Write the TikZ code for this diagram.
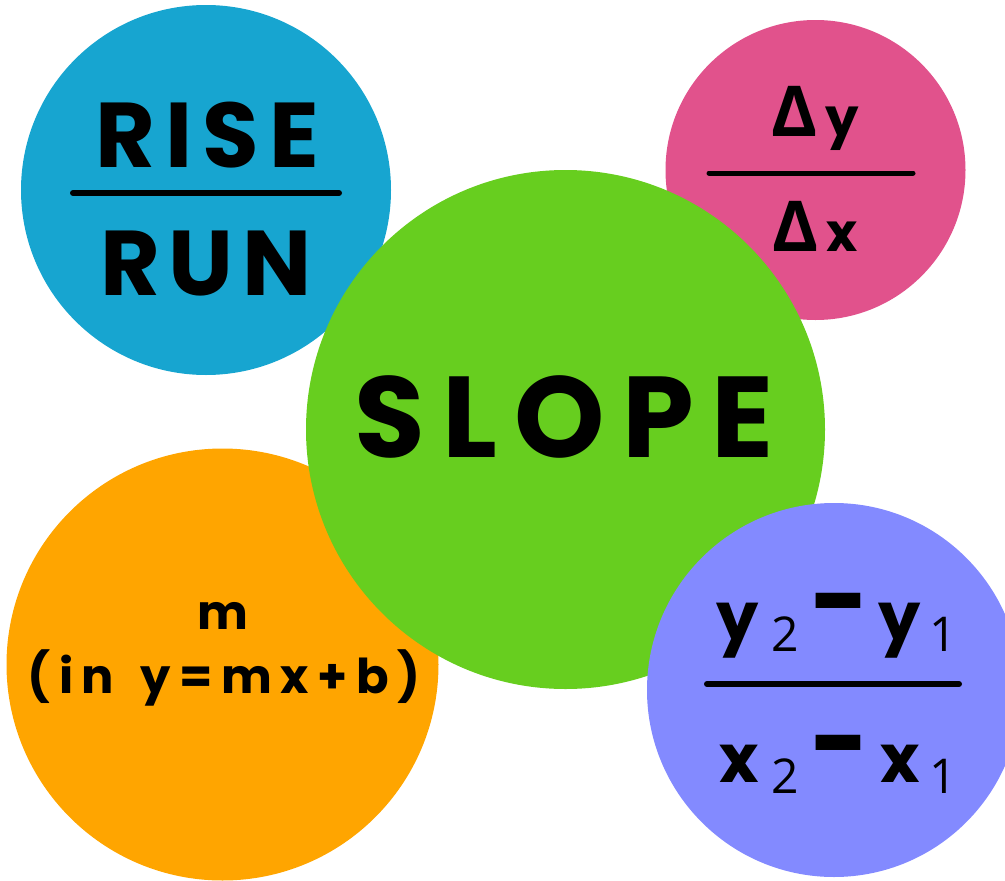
\documentclass[tikz,border=0pt]{standalone}
\usepackage{fontspec}
\setmainfont{Poppins}
\newfontfamily\osans{Open Sans}
\definecolor{cblue}{RGB}{23,165,208}
\definecolor{cpink}{RGB}{225,82,140}
\definecolor{cgreen}{RGB}{103,206,31}
\definecolor{corange}{RGB}{255,165,0}
\definecolor{cpurple}{RGB}{131,138,255}
\begin{document}
\begin{tikzpicture}[x=1pt,y=-1pt,
  disc/.style={circle,inner sep=0pt,draw=none},
  lbl/.style={inner sep=0pt,anchor=base,text=black},
  barline/.style={line width=6pt,line cap=round,black},
  sub/.style={inner sep=0pt,anchor=base,font=\osans\fontsize{48}{48}\selectfont},
  var/.style={inner sep=0pt,anchor=base,font=\bfseries\fontsize{67}{67}\selectfont},
  minus/.style={inner sep=0pt,anchor=center,font=\bfseries\fontsize{67}{67}\selectfont}]
\useasboundingbox (0,0) rectangle (1005,881);
\clip (0,0) rectangle (1005,881);
% circles
\node[disc,fill=cblue,minimum size=370pt] (blue) at (206,190) {};
\node[disc,fill=cpink,minimum size=300pt] (pink) at (815.5,170) {};
\node[disc,fill=corange,minimum size=432pt] (orange) at (222.5,664.5) {};
\node[disc,fill=cgreen,minimum size=519pt] (green) at (565.5,429.5) {};
\node[disc,fill=cpurple,minimum size=374pt] (purple) at (834,690) {};
% blue: RISE / RUN
\node[lbl,font=\bfseries\fontsize{92}{92}\selectfont\addfontfeatures{LetterSpace=11}] (rise) at (207,167) {RISE};
\coordinate (b1) at (73,193); \coordinate (b2) at (339,193);
\draw[barline] (b1) -- (b2);
\node[lbl,font=\bfseries\fontsize{92}{92}\selectfont\addfontfeatures{LetterSpace=9}] (run) at (206,295) {RUN};
% pink: Delta y / Delta x
\node[lbl,font=\fontsize{53}{53}\selectfont] (dy) at (815.5,136) {{\osans\bfseries\fontsize{70}{70}\selectfont Δ}\hspace{8pt}{\bfseries y}};
\coordinate (p1) at (709,173); \coordinate (p2) at (913,173);
\draw[barline,line width=5pt] (p1) -- (p2);
\node[lbl,font=\fontsize{53}{53}\selectfont] (dx) at (815.5,251) {{\osans\bfseries\fontsize{70}{70}\selectfont Δ}\hspace{8pt}{\bfseries x}};
% green: SLOPE
\node[lbl,font=\bfseries\fontsize{115}{115}\selectfont\addfontfeatures{LetterSpace=15}] (slope) at (564,457) {SLOPE};
% orange: m (in y=mx+b)
\node[lbl,font=\bfseries\fontsize{48}{48}\selectfont] (m) at (223,629) {m};
\node[lbl,font=\bfseries\fontsize{48}{48}\selectfont\addfontfeatures{LetterSpace=18}] (eq) at (224,693) {(in\hspace{26pt}y=mx+b)};
% purple: (y2 - y1)/(x2 - x1)
\node[var] (ny2) at (738,640) {y};
\node[sub] (n2) at (785,651) {2};
\node[minus] (nm) at (838.5,616) {\scalebox{1.2}[1.6]{–}};
\node[var] (ny1) at (900,640) {y};
\node[sub] (n1) at (943,651) {1};
\coordinate (q1) at (707,684); \coordinate (q2) at (959,684);
\draw[barline] (q1) -- (q2);
\node[var] (dx2) at (739,782) {x};
\node[sub] (d2) at (785,793) {2};
\node[minus] (dm) at (838.5,758) {\scalebox{1.2}[1.6]{–}};
\node[var] (dx1) at (900,782) {x};
\node[sub] (d1) at (943,793) {1};
\end{tikzpicture}
\end{document}
